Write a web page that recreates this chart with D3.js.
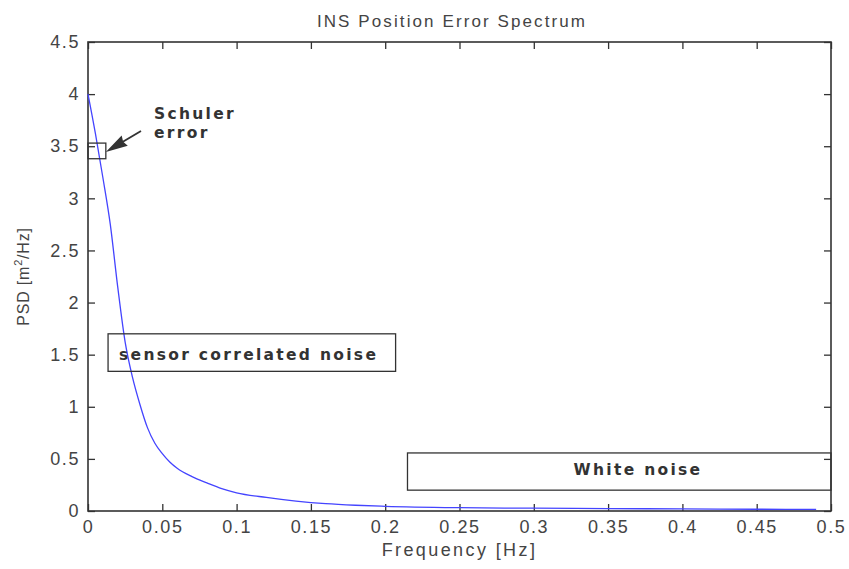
<!DOCTYPE html>
<html>
<head>
<meta charset="utf-8">
<script src="https://cdn.jsdelivr.net/npm/d3@7"></script>
<style>
  body { margin: 0; background: #fff; }
  svg { display: block; }
</style>
</head>
<body>
<svg id="chart" width="849" height="569"></svg>
<script>
var freq = [0, 0.005, 0.01, 0.015, 0.02, 0.025, 0.03, 0.035, 0.04, 0.045, 0.05,
            0.055, 0.06, 0.07, 0.08, 0.09, 0.1, 0.12, 0.14, 0.16, 0.18, 0.2,
            0.25, 0.3, 0.35, 0.4, 0.45, 0.49];
var psd = [4.0, 3.62, 3.2, 2.75, 2.15, 1.62, 1.28, 1.02, 0.80, 0.65, 0.55,
           0.47, 0.41, 0.33, 0.27, 0.215, 0.175, 0.13, 0.095, 0.07, 0.055, 0.045,
           0.032, 0.027, 0.023, 0.02, 0.017, 0.015];
var xTicks = [0, 0.05, 0.1, 0.15, 0.2, 0.25, 0.3, 0.35, 0.4, 0.45, 0.5];
var yTicks = [0, 0.5, 1, 1.5, 2, 2.5, 3, 3.5, 4, 4.5];

// annotation boxes in data units: [f0, f1, p0, p1]
var schulerBox = [0, 0.012, 3.38, 3.53];
var sensorBox = [0.0135, 0.207, 1.34, 1.70];
var whiteBox = [0.215, 0.5, 0.20, 0.557];

var plotLeft = 88, plotRight = 831, plotTop = 42, plotBottom = 511;
var axisColor = '#333';
var textColor = '#444';
var lineColor = '#4444ff';
var fontFam = 'Liberation Sans, Arial, sans-serif';
var boldFam = 'DejaVu Sans, Liberation Sans, sans-serif';

var svg = d3.select('#chart');

var x = d3.scaleLinear().domain([0, 0.5]).range([plotLeft, plotRight]);
var y = d3.scaleLinear().domain([0, 4.5]).range([plotBottom, plotTop]);

function fmt(d) { return d3.format('')(d); }

svg.append('g')
  .attr('transform', 'translate(0,' + plotBottom + ')')
  .call(d3.axisBottom(x).tickValues(xTicks).tickFormat(fmt)
    .tickSizeInner(-7).tickSizeOuter(0).tickPadding(9));

svg.append('g')
  .attr('transform', 'translate(' + plotLeft + ',0)')
  .call(d3.axisLeft(y).tickValues(yTicks).tickFormat(fmt)
    .tickSizeInner(-7).tickSizeOuter(0).tickPadding(8));

svg.append('g')
  .attr('transform', 'translate(0,' + plotTop + ')')
  .call(d3.axisTop(x).tickValues(xTicks).tickFormat('')
    .tickSizeInner(-7).tickSizeOuter(0));

svg.append('g')
  .attr('transform', 'translate(' + plotRight + ',0)')
  .call(d3.axisRight(y).tickValues(yTicks).tickFormat('')
    .tickSizeInner(-7).tickSizeOuter(0));

svg.selectAll('.domain').remove();
svg.selectAll('.tick line').attr('stroke', axisColor).attr('stroke-width', 1.3);
svg.selectAll('.tick text')
  .attr('fill', textColor)
  .attr('font-family', fontFam)
  .attr('font-size', 18)
  .attr('letter-spacing', 1.6);

svg.append('rect')
  .attr('x', plotLeft).attr('y', plotTop)
  .attr('width', plotRight - plotLeft).attr('height', plotBottom - plotTop)
  .attr('fill', 'none')
  .attr('stroke', axisColor)
  .attr('stroke-width', 1.6);

// curve
var line = d3.line()
  .x(function (d, i) { return x(freq[i]); })
  .y(function (d) { return y(d); })
  .curve(d3.curveMonotoneX);

svg.append('path')
  .datum(psd)
  .attr('d', line)
  .attr('fill', 'none')
  .attr('stroke', lineColor)
  .attr('stroke-width', 1.3);

// annotation boxes
function box(b) {
  svg.append('rect')
    .attr('x', x(b[0])).attr('y', y(b[3]))
    .attr('width', x(b[1]) - x(b[0]))
    .attr('height', y(b[2]) - y(b[3]))
    .attr('fill', 'none')
    .attr('stroke', axisColor)
    .attr('stroke-width', 1.3);
}
box(schulerBox);
box(sensorBox);
box(whiteBox);

function label(txt, px, py, anchor) {
  svg.append('text')
    .attr('x', px).attr('y', py)
    .attr('text-anchor', anchor || 'start')
    .attr('font-family', boldFam)
    .attr('font-weight', 'bold')
    .attr('font-size', 15.5)
    .attr('letter-spacing', 2.3)
    .attr('fill', '#333')
    .text(txt);
}

label('sensor correlated noise', x(sensorBox[0]) + 11, y(sensorBox[2]) - 11);
label('White noise', 638, y(whiteBox[0]) - 14, 'middle');
label('Schuler', 154, 119);
label('error', 154, 138);

// arrow pointing at the Schuler box
var tailX = 141, tailY = 131, headX = x(schulerBox[1]), headY = 152;
var ang = Math.atan2(headY - tailY, headX - tailX);
svg.append('line')
  .attr('x1', tailX).attr('y1', tailY)
  .attr('x2', headX - 12 * Math.cos(ang)).attr('y2', headY - 12 * Math.sin(ang))
  .attr('stroke', '#333').attr('stroke-width', 1.8);
var aL = 22, aW = 6;
var bx = headX - aL * Math.cos(ang), by = headY - aL * Math.sin(ang);
svg.append('path')
  .attr('d', 'M' + headX + ',' + headY +
    'L' + (bx - aW * Math.sin(ang)) + ',' + (by + aW * Math.cos(ang)) +
    'L' + (bx + aW * 0.3 * Math.cos(ang)) + ',' + (by + aW * 0.3 * Math.sin(ang)) +
    'L' + (bx + aW * Math.sin(ang)) + ',' + (by - aW * Math.cos(ang)) + 'Z')
  .attr('fill', '#333');

// title and axis labels
svg.append('text')
  .attr('x', 452).attr('y', 27)
  .attr('text-anchor', 'middle')
  .attr('font-family', fontFam)
  .attr('font-size', 17)
  .attr('letter-spacing', 2.1)
  .attr('fill', textColor)
  .text('INS Position Error Spectrum');

svg.append('text')
  .attr('x', (plotLeft + plotRight) / 2).attr('y', 556)
  .attr('text-anchor', 'middle')
  .attr('font-family', fontFam)
  .attr('font-size', 18)
  .attr('letter-spacing', 2.4)
  .attr('fill', textColor)
  .text('Frequency [Hz]');

var yl = svg.append('text')
  .attr('transform', 'translate(29,' + ((plotTop + plotBottom) / 2) + ') rotate(-90)')
  .attr('text-anchor', 'middle')
  .attr('font-family', fontFam)
  .attr('font-size', 16)
  .attr('letter-spacing', 0.8)
  .attr('fill', textColor);
yl.append('tspan').text('PSD [m');
yl.append('tspan').attr('font-size', 11).attr('dy', -7).text('2');
yl.append('tspan').attr('dy', 7).text('/Hz]');
</script>
</body>
</html>
